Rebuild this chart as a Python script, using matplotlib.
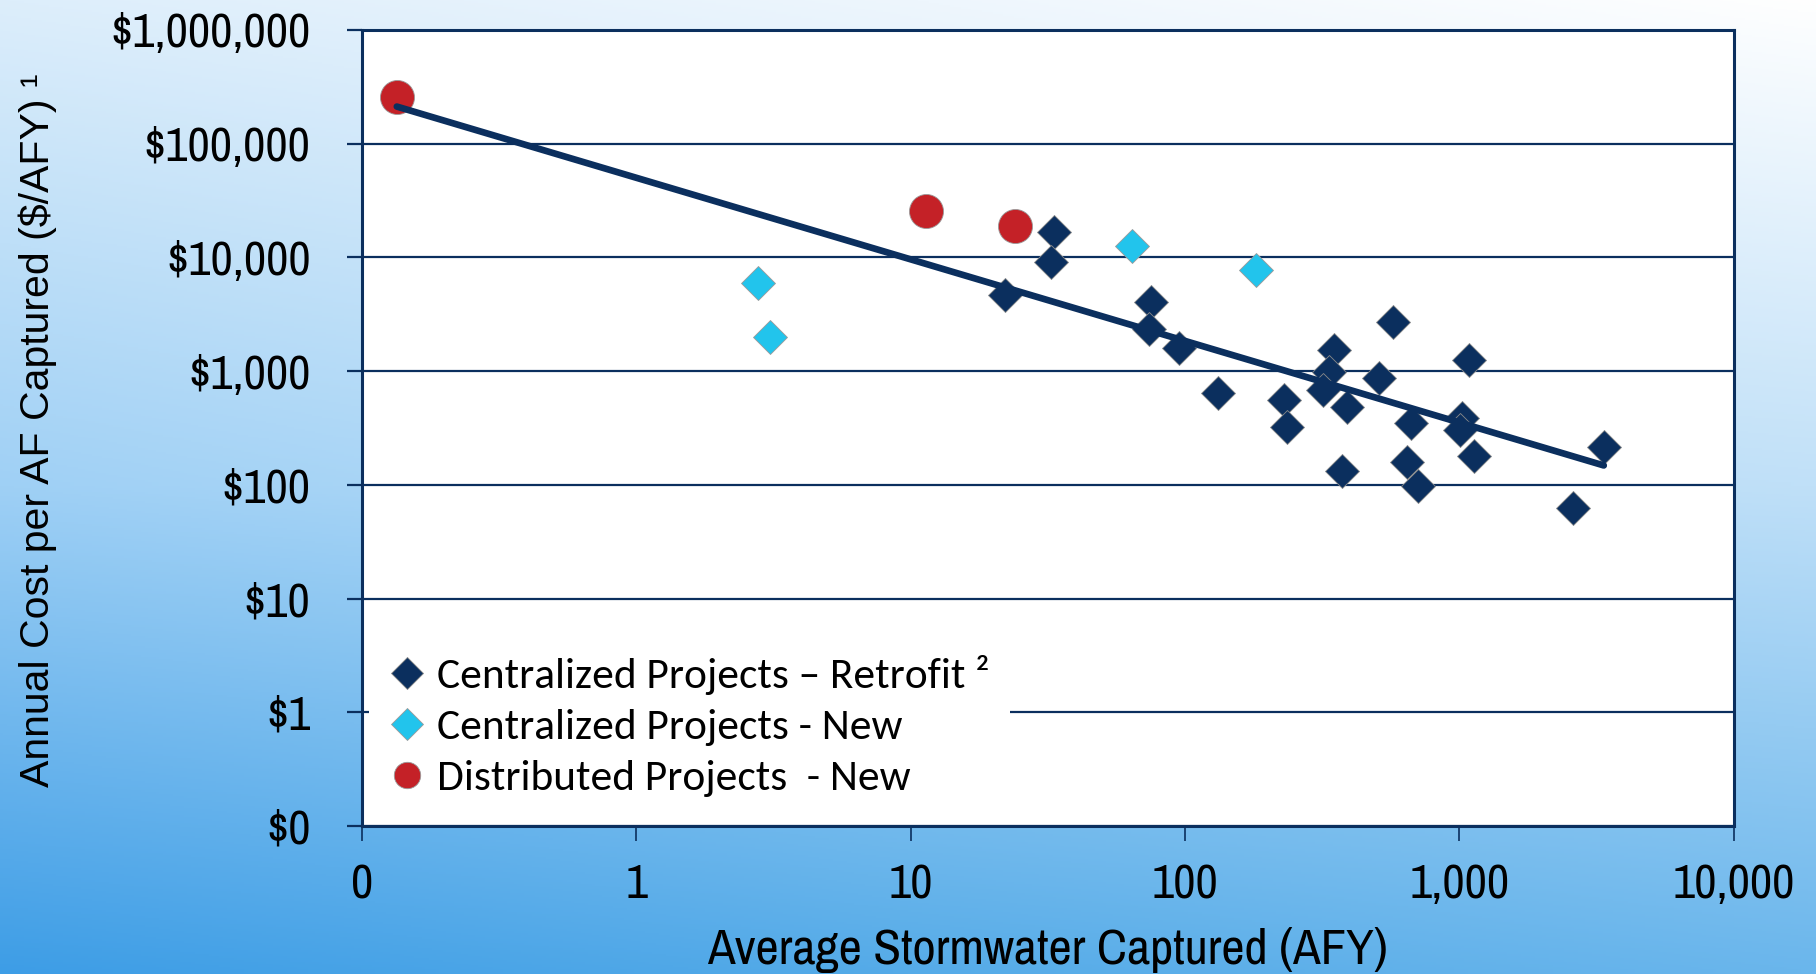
import numpy as np
import matplotlib
matplotlib.use("Agg")
import matplotlib.pyplot as plt
from matplotlib import font_manager

# Average stormwater captured (AFY) and annual cost per AF captured ($/AFY)
retrofit_afy = [33.2, 32.6, 22.1, 75.5, 74.1, 95.4, 132, 230, 236, 350, 335, 319, 391,
                375, 572, 511, 667, 645, 706, 1090, 1026, 1006, 1135, 3365, 2590]
retrofit_cost = [16600, 9150, 4660, 4080, 2330, 1590, 646, 557, 325, 1530, 989, 682, 488,
                 131, 2690, 865, 348, 160, 97, 1250, 385, 304, 180, 217, 62]
central_new_afy = [2.78, 3.07, 64.3, 182]
central_new_cost = [6000, 1990, 12700, 7760]
distributed_afy = [0.134, 11.4, 24.1]
distributed_cost = [256000, 25700, 18900]

series_labels = ['Centralized Projects \u2013 Retrofit \u00b2',
                 'Centralized Projects - New',
                 'Distributed Projects  - New']

x_ticks = [0.1, 1, 10, 100, 1000, 10000]
x_labels = ['0', '1', '10', '100', '1,000', '10,000']
y_ticks = [0.1, 1, 10, 100, 1e3, 1e4, 1e5, 1e6]
y_labels = ['$0', '$1', '$10', '$100', '$1,000', '$10,000', '$100,000', '$1,000,000']

navy = '#0b2f5e'
light_blue = '#22c4ec'
red = '#c42127'


def pick_font(options, default='DejaVu Sans'):
    names = {f.name for f in font_manager.fontManager.ttflist}
    for name in options:
        if name in names:
            return name
    return default


narrow = pick_font(['Liberation Sans Narrow', 'Archivo Narrow', 'Roboto Condensed',
                    'PT Sans Narrow', 'Pragati Narrow', 'IBM Plex Sans Condensed'])
legend_font = pick_font(['Carlito', 'Lato'])

fig = plt.figure(figsize=(18.16, 9.74), dpi=100)

# blue gradient backdrop
bg = fig.add_axes([0, 0, 1, 1])
bg.set_zorder(0)
grad = np.array([
    [[0xdd, 0xee, 0xfb], [0xee, 0xf6, 0xfd], [0xff, 0xff, 0xff]],
    [[0x9f, 0xd0, 0xf5], [0xb4, 0xdb, 0xf7], [0xc0, 0xe0, 0xf8]],
    [[0x3d, 0x9d, 0xe6], [0x55, 0xab, 0xe8], [0x6a, 0xb6, 0xec]],
]) / 255.0
bg.imshow(grad, extent=(-0.25, 1.25, -0.25, 1.25), interpolation='bilinear', aspect='auto')
bg.set_xlim(0, 1)
bg.set_ylim(0, 1)
bg.axis('off')

ax = fig.add_axes([0.1993, 0.1520, 0.7553, 0.8172])
ax.set_zorder(1)
ax.set_facecolor('white')

ax.plot(retrofit_afy, retrofit_cost, ls='none', marker='D', ms=17.5, mfc=navy,
        mec='#8a8a8a', mew=0.6, label=series_labels[0], zorder=3)
ax.plot(central_new_afy, central_new_cost, ls='none', marker='D', ms=17.5, mfc=light_blue,
        mec='#9a9a9a', mew=0.6, label=series_labels[1], zorder=3)
ax.plot(distributed_afy, distributed_cost, ls='none', marker='o', ms=24.5, mfc=red,
        mec='#9a9a9a', mew=0.6, label=series_labels[2], zorder=3)

# power trendline fitted to all projects
all_x = np.log10(np.concatenate([retrofit_afy, central_new_afy, distributed_afy]))
all_y = np.log10(np.concatenate([retrofit_cost, central_new_cost, distributed_cost]))
slope, icpt = np.polyfit(all_x, all_y, 1)
fit_x = np.array([all_x.min(), all_x.max()])
ax.plot(10 ** fit_x, 10 ** (icpt + slope * fit_x), color=navy, lw=4.8,
        solid_capstyle='round', zorder=4)

ax.set_xscale('log')
ax.set_yscale('log')
ax.set_xlim(0.1, 10000)
ax.set_ylim(0.1, 1e6)
ax.set_xticks(x_ticks)
ax.set_xticklabels(x_labels)
ax.set_yticks(y_ticks)
ax.set_yticklabels(y_labels)
ax.minorticks_off()

for lab in ax.get_xticklabels() + ax.get_yticklabels():
    lab.set_fontfamily(narrow)
    lab.set_fontsize(35)
    lab.set_fontweight('medium')

ax.tick_params(axis='y', length=11, width=1.6, color=navy, pad=26)
ax.tick_params(axis='x', length=11, width=1.2, color=navy, pad=16)

ax.yaxis.grid(True, color=navy, lw=1.6, zorder=1)
ax.set_axisbelow(True)
for sp in ax.spines.values():
    sp.set_color(navy)
    sp.set_linewidth(2.2)

ax.set_xlabel('Average Stormwater Captured (AFY)', fontfamily=narrow, fontsize=36.5,
              fontweight='medium', labelpad=14.5)
fig.text(38 / 1816, 1 - 430 / 974, 'Annual Cost per AF Captured ($/AFY) \u00b9',
         rotation=90, ha='center', va='center', fontfamily='Liberation Sans', fontsize=29.5)

leg = ax.legend(loc='lower left', bbox_to_anchor=(0.0055, 0.0112), borderaxespad=0,
                frameon=True, fancybox=False, facecolor='white', edgecolor='none',
                framealpha=1, prop={'family': legend_font, 'size': 31.2},
                handlelength=0.8, handletextpad=0.295, borderpad=0.468,
                labelspacing=0.315, markerscale=1.0)
leg.set_zorder(5)
leg.legend_handles[0].set_markersize(16.5)
leg.legend_handles[1].set_markersize(16.5)
leg.legend_handles[2].set_markersize(19)

fig.savefig('out.png', dpi=100)
